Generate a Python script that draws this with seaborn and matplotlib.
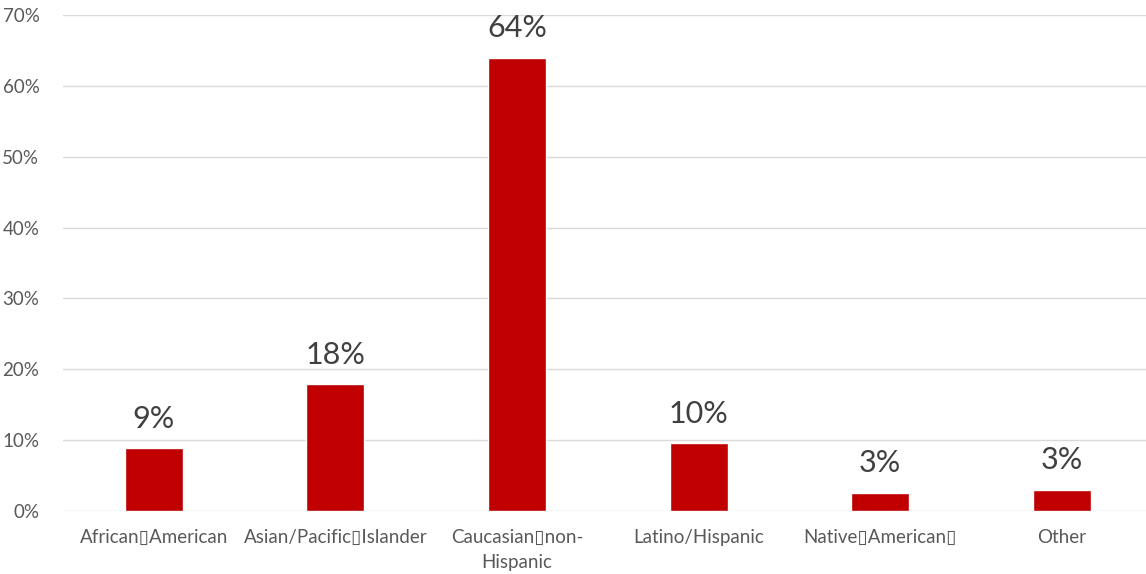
import matplotlib
matplotlib.use("Agg")
import matplotlib.pyplot as plt
import seaborn as sns
import pandas as pd
from matplotlib.ticker import FuncFormatter

categories = [
    "African\u25afAmerican",
    "Asian/Pacific\u25afIslander",
    "Caucasian\u25afnon-\nHispanic",
    "Latino/Hispanic",
    "Native\u25afAmerican\u25af",
    "Other",
]
shares = [8.9, 17.9, 64.0, 9.6, 2.6, 3.0]
y_ticks = [0, 10, 20, 30, 40, 50, 60, 70]

df = pd.DataFrame({"group": categories, "share": shares})

sns.set_theme(style="white")
plt.rcParams["font.family"] = ["Lato", "DejaVu Sans"]

fig = plt.figure(figsize=(11.46, 5.74), dpi=100)
ax = fig.add_axes([63 / 1146, 1 - 511 / 574, (1146 - 63) / 1146, (511 - 15) / 574])

sns.barplot(data=df, x="group", y="share", color="#c00000", width=0.32,
            saturation=1, ax=ax, zorder=3)

ax.set_ylim(0, 70)
ax.set_xlim(-0.5, -0.5 + (1146 - 63) / 181.6)
ax.set_yticks(y_ticks)
ax.yaxis.set_major_formatter(FuncFormatter(lambda v, _: f"{v:.0f}%"))
ax.grid(axis="y", color="#d9d9d9", linewidth=1, zorder=0)
for s in ax.spines.values():
    s.set_visible(False)
ax.tick_params(axis="y", length=0, pad=17, labelsize=13.5, labelcolor="#595959")
ax.tick_params(axis="x", length=0, pad=13, labelsize=13.5, labelcolor="#595959")
for lbl in ax.get_xticklabels():
    lbl.set_linespacing(1.6)
ax.set_xlabel("")
ax.set_ylabel("")

for i, v in enumerate(shares):
    ax.annotate(f"{v:.0f}%", (i, v), xytext=(0, 11), textcoords="offset points",
                ha="center", va="bottom", fontsize=22, color="#404040")

fig.savefig("out.png", dpi=100)
